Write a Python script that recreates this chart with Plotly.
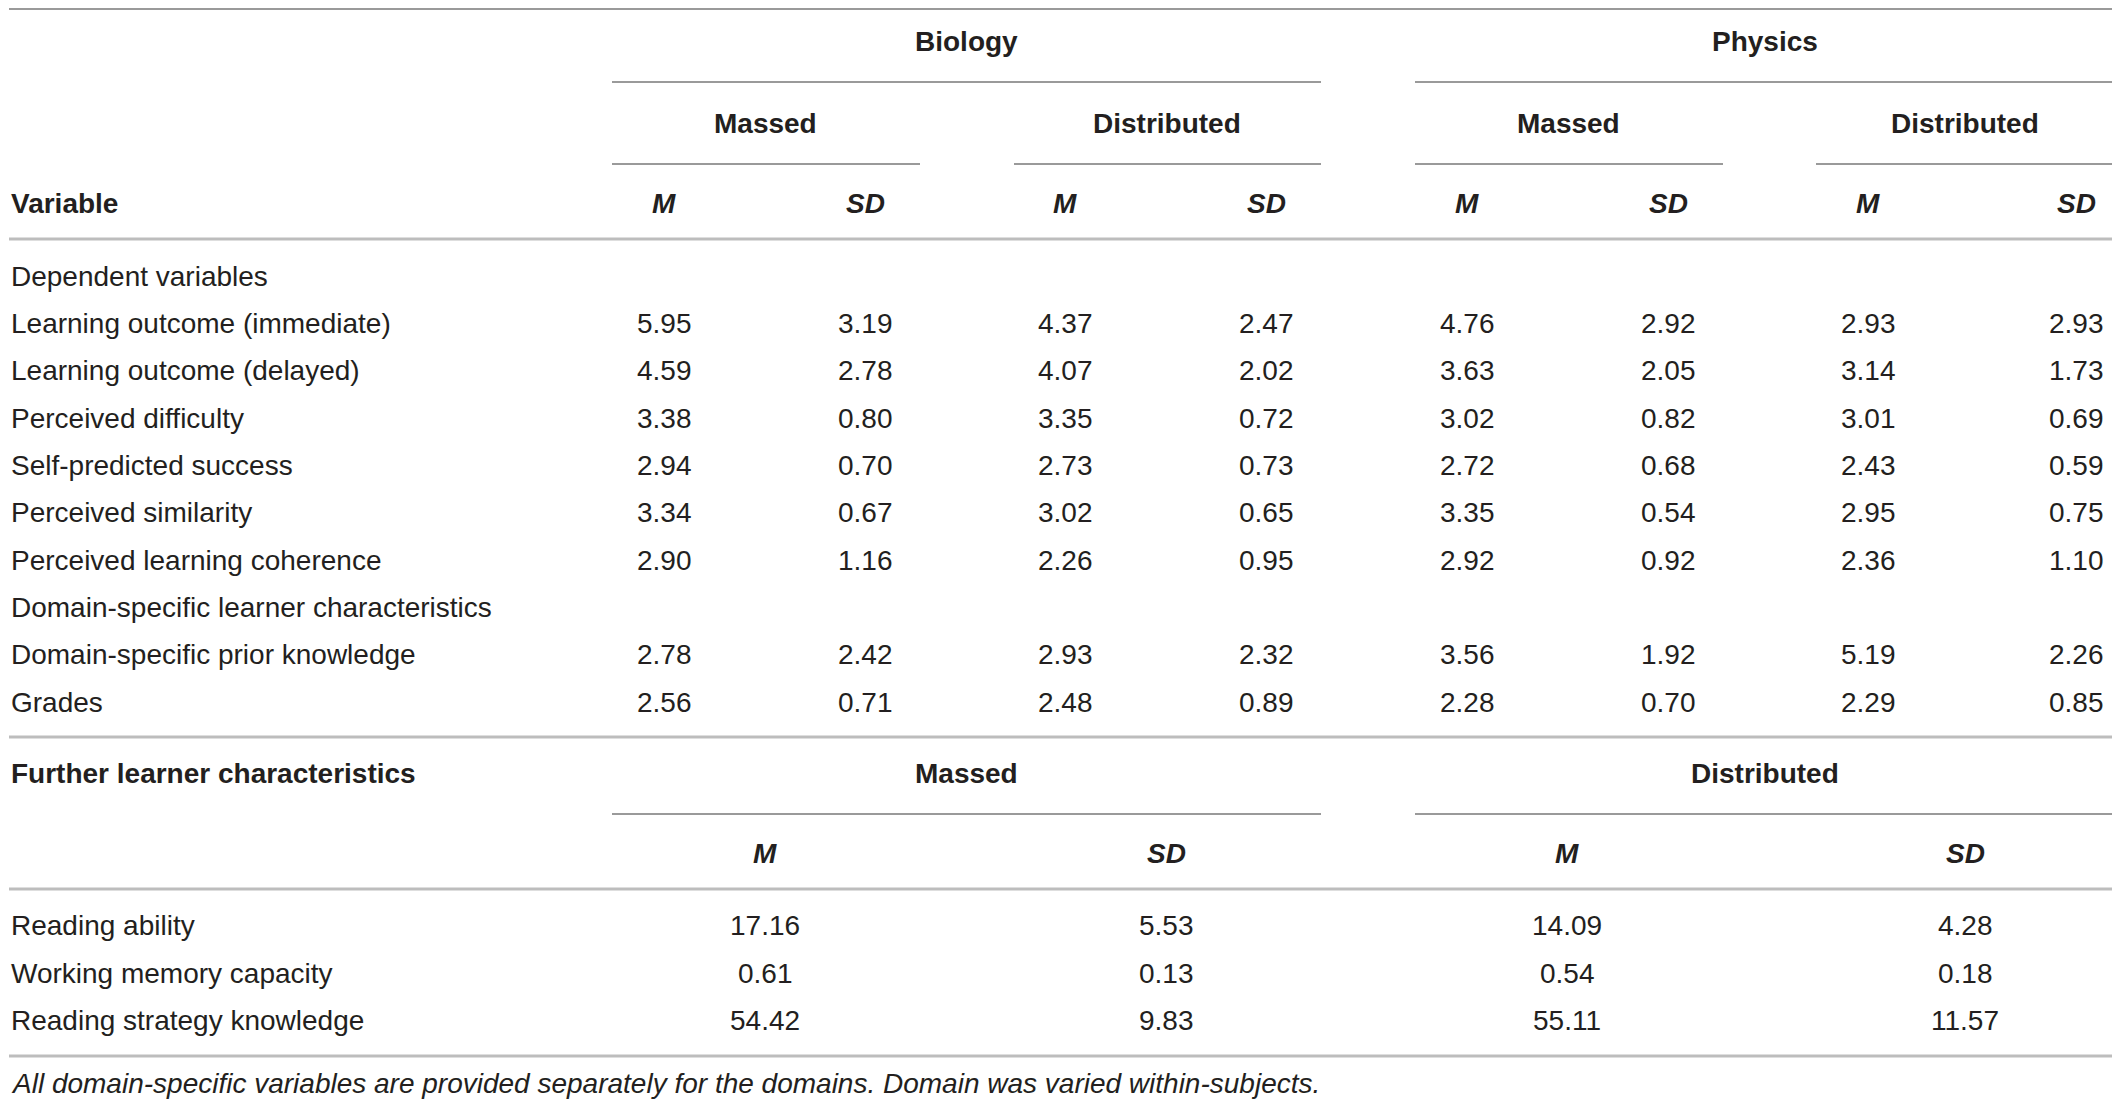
import plotly.graph_objects as go

# Table data
dep_vars = ["Learning outcome (immediate)", "Learning outcome (delayed)",
            "Perceived difficulty", "Self-predicted success",
            "Perceived similarity", "Perceived learning coherence"]
dom_vars = ["Domain-specific prior knowledge", "Grades"]

bio_massed_m = ["5.95", "4.59", "3.38", "2.94", "3.34", "2.90", "2.78", "2.56"]
bio_massed_sd = ["3.19", "2.78", "0.80", "0.70", "0.67", "1.16", "2.42", "0.71"]
bio_dist_m = ["4.37", "4.07", "3.35", "2.73", "3.02", "2.26", "2.93", "2.48"]
bio_dist_sd = ["2.47", "2.02", "0.72", "0.73", "0.65", "0.95", "2.32", "0.89"]
phy_massed_m = ["4.76", "3.63", "3.02", "2.72", "3.35", "2.92", "3.56", "2.28"]
phy_massed_sd = ["2.92", "2.05", "0.82", "0.68", "0.54", "0.92", "1.92", "0.70"]
phy_dist_m = ["2.93", "3.14", "3.01", "2.43", "2.95", "2.36", "5.19", "2.29"]
phy_dist_sd = ["2.93", "1.73", "0.69", "0.59", "0.75", "1.10", "2.26", "0.85"]

further_vars = ["Reading ability", "Working memory capacity",
                "Reading strategy knowledge"]
further_massed_m = ["17.16", "0.61", "54.42"]
further_massed_sd = ["5.53", "0.13", "9.83"]
further_dist_m = ["14.09", "0.54", "55.11"]
further_dist_sd = ["4.28", "0.18", "11.57"]

note = ("All domain-specific variables are provided separately for the domains. "
        "Domain was varied within-subjects.")

W, H = 2120, 1104
OFF = 8  # page body margin, so axis units equal page pixels
FONT = "Liberation Sans"
TXT = "#231f20"
FS = 28
LEFT = 8.5  # left edge of the first column

annotations = []


def cell(x, y, text, anchor="center", size=FS):
    annotations.append(dict(x=x, y=y, xref="x", yref="y", text=text,
                            showarrow=False, xanchor=anchor, yanchor="middle",
                            font=dict(family=FONT, size=size, color=TXT)))


shapes = []


def hline(x0, x1, y, color="#9a9a9a", width=2):
    shapes.append(dict(type="line", xref="x", yref="y", x0=x0, x1=x1,
                       y0=y, y1=y, line=dict(color=color, width=width)))


# column centres of the upper block
cols = [664, 865, 1065, 1266, 1467, 1668, 1868, 2076]
col_data = [bio_massed_m, bio_massed_sd, bio_dist_m, bio_dist_sd,
            phy_massed_m, phy_massed_sd, phy_dist_m, phy_dist_sd]

# header
hline(9, 2114, 9)
cell(966, 41, "<b>Biology</b>")
cell(1765, 41, "<b>Physics</b>")
hline(612, 1321, 82)
hline(1415, 2114, 82)
cell(765, 123, "<b>Massed</b>")
cell(1167, 123, "<b>Distributed</b>")
cell(1568, 123, "<b>Massed</b>")
cell(1965, 123, "<b>Distributed</b>")
hline(612, 920, 164)
hline(1014, 1321, 164)
hline(1415, 1723, 164)
hline(1816, 2114, 164)
cell(LEFT, 203, "<b>Variable</b>", "left")
for i, x in enumerate(cols):
    cell(x, 203, "<b><i>M</i></b>" if i % 2 == 0 else "<b><i>SD</i></b>")
hline(9, 2114, 239, "#bdbdbd", 3)

# body
row_y = [323, 370, 418, 465, 512, 560, 654, 702]
cell(LEFT, 276, "Dependent variables", "left")
cell(LEFT, 607, "Domain-specific learner characteristics", "left")
for name, y in zip(dep_vars + dom_vars, row_y):
    cell(LEFT, y, name, "left")
for x, vals in zip(cols, col_data):
    for v, y in zip(vals, row_y):
        cell(x, y, v)
hline(9, 2114, 737, "#bdbdbd", 3)

# further learner characteristics
cell(LEFT, 773, "<b>Further learner characteristics</b>", "left")
cell(966, 773, "<b>Massed</b>")
cell(1765, 773, "<b>Distributed</b>")
hline(612, 1321, 814)
hline(1415, 2114, 814)
cols2 = [765, 1166, 1567, 1965]
col_data2 = [further_massed_m, further_massed_sd, further_dist_m, further_dist_sd]
for i, x in enumerate(cols2):
    cell(x, 853, "<b><i>M</i></b>" if i % 2 == 0 else "<b><i>SD</i></b>")
hline(9, 2114, 889, "#bdbdbd", 3)
row_y2 = [925, 973, 1020]
for name, y in zip(further_vars, row_y2):
    cell(LEFT, y, name, "left")
for x, vals in zip(cols2, col_data2):
    for v, y in zip(vals, row_y2):
        cell(x, y, v)
hline(9, 2114, 1056, "#bdbdbd", 3)
cell(LEFT, 1083, "<i>" + note + "</i>", "left", 28)

fig = go.Figure()
fig.update_layout(width=W, height=H, margin=dict(l=0, r=0, t=0, b=0),
                  paper_bgcolor="white", plot_bgcolor="white",
                  xaxis=dict(range=[OFF, W + OFF], visible=False, fixedrange=True),
                  yaxis=dict(range=[H + OFF, OFF], visible=False, fixedrange=True),
                  annotations=annotations, shapes=shapes, showlegend=False)
fig.write_html("out.html")
